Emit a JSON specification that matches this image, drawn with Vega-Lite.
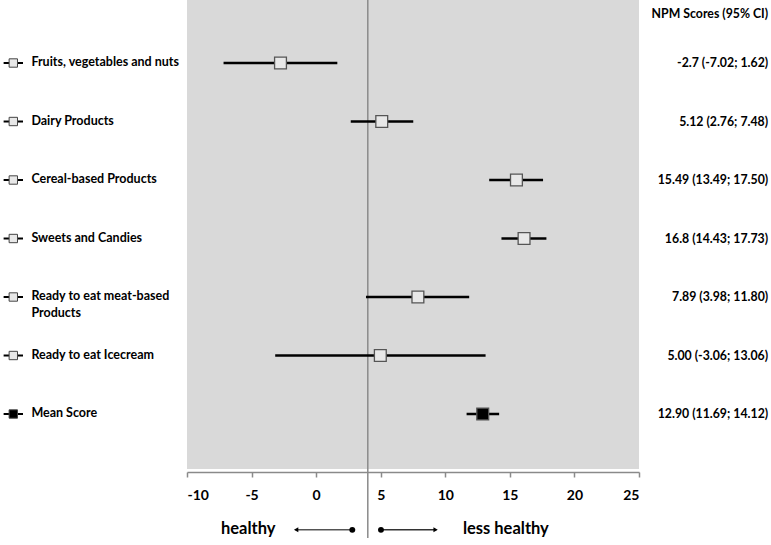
{
  "$schema": "https://vega.github.io/schema/vega-lite/v6.json",
  "width": 452,
  "height": 469,
  "autosize": {"type": "none"},
  "padding": {"left": 187, "top": 0, "right": 132, "bottom": 76},
  "background": "white",
  "config": {
    "view": {"fill": "#d9d9d9", "stroke": null},
    "font": "Lato",
    "text": {"font": "Lato", "fontWeight": "bold", "color": "black"}
  },
  "datasets": {
    "rows": [
      {"cat": "Fruits, vegetables and nuts", "i": 0, "est": -2.76, "lo": -7.17, "hi": 1.64, "type": "category", "ci": "-2.7 (-7.02; 1.62)"},
      {"cat": "Dairy Products", "i": 1, "est": 5.08, "lo": 2.68, "hi": 7.52, "type": "category", "ci": "5.12 (2.76; 7.48)"},
      {"cat": "Cereal-based Products", "i": 2, "est": 15.51, "lo": 13.4, "hi": 17.57, "type": "category", "ci": "15.49 (13.49; 17.50)"},
      {"cat": "Sweets and Candies", "i": 3, "est": 16.1, "lo": 14.35, "hi": 17.83, "type": "category", "ci": "16.8 (14.43; 17.73)"},
      {"cat": "Ready to eat meat-based\nProducts", "i": 4, "est": 7.88, "lo": 3.86, "hi": 11.85, "type": "category", "ci": "7.89 (3.98; 11.80)"},
      {"cat": "Ready to eat Icecream", "i": 5, "est": 4.97, "lo": -3.17, "hi": 13.12, "type": "category", "ci": "5.00 (-3.06; 13.06)"},
      {"cat": "Mean Score", "i": 6, "est": 12.9, "lo": 11.65, "hi": 14.17, "type": "mean", "ci": "12.90 (11.69; 14.12)"}
    ]
  },
  "layer": [
    {
      "data": {"values": [{"ref": 4}]},
      "mark": {"type": "rule", "color": "#8a8a8a", "strokeWidth": 1.5, "clip": false},
      "encoding": {
        "x": {"field": "ref", "type": "quantitative", "scale": {"domain": [-10, 25], "nice": false, "zero": false},
          "axis": {"values": [-10, -5, 0, 5, 10, 15, 20, 25], "labelExpr": "'' + datum.value", "title": null, "grid": false, "offset": 3, "domainColor": "#8a8a8a", "domainWidth": 1.5, "tickColor": "#8a8a8a", "tickSize": 5, "tickWidth": 1.5, "labelFont": "Lato", "labelFontSize": 14, "labelFontWeight": "bold", "labelColor": "black", "labelPadding": 11}},
        "y": {"datum": -1.077, "type": "quantitative", "scale": {"domain": [-1.077, 6.94], "reverse": true, "nice": false, "zero": false}, "axis": null},
        "y2": {"datum": 8.12}
      }
    },
    {
      "data": {"name": "rows"},
      "mark": {"type": "rule", "color": "black", "strokeWidth": 2.5},
      "encoding": {
        "x": {"field": "lo", "type": "quantitative"},
        "x2": {"field": "hi"},
        "y": {"field": "i", "type": "quantitative"}
      }
    },
    {
      "data": {"name": "rows"},
      "mark": {"type": "point", "shape": "square", "filled": true, "size": 140, "stroke": "#555555", "strokeWidth": 1.3, "opacity": 1},
      "encoding": {
        "x": {"field": "est", "type": "quantitative"},
        "y": {"field": "i", "type": "quantitative"},
        "fill": {"field": "type", "type": "nominal", "scale": {"domain": ["category", "mean"], "range": ["#e8e8e8", "#000000"]}, "legend": null}
      }
    },
    {
      "data": {"name": "rows"},
      "mark": {"type": "rule", "color": "black", "strokeWidth": 2, "clip": false},
      "encoding": {
        "x": {"datum": -24.2, "type": "quantitative"},
        "x2": {"datum": -22.7},
        "y": {"field": "i", "type": "quantitative"}
      }
    },
    {
      "data": {"name": "rows"},
      "mark": {"type": "point", "shape": "square", "filled": true, "size": 70, "stroke": "#444444", "strokeWidth": 1, "opacity": 1, "clip": false},
      "encoding": {
        "x": {"datum": -23.45, "type": "quantitative"},
        "y": {"field": "i", "type": "quantitative"},
        "fill": {"field": "type", "type": "nominal", "legend": null}
      }
    },
    {
      "data": {"name": "rows"},
      "mark": {"type": "text", "align": "left", "baseline": "middle", "fontSize": 12.5, "lineBreak": "\n", "lineHeight": 17, "dy": -1, "clip": false},
      "encoding": {
        "x": {"datum": -22.05, "type": "quantitative"},
        "y": {"field": "i", "type": "quantitative"},
        "text": {"field": "cat"}
      }
    },
    {
      "data": {"name": "rows"},
      "mark": {"type": "text", "align": "right", "baseline": "middle", "fontSize": 12.3, "clip": false},
      "encoding": {
        "x": {"datum": 35.0, "type": "quantitative"},
        "y": {"field": "i", "type": "quantitative"},
        "text": {"field": "ci"}
      }
    },
    {
      "data": {"values": [{"t": "NPM Scores (95% CI)"}]},
      "mark": {"type": "text", "align": "right", "baseline": "middle", "fontSize": 12.3, "clip": false},
      "encoding": {
        "x": {"datum": 35.0, "type": "quantitative"},
        "y": {"datum": -0.838, "type": "quantitative"},
        "text": {"field": "t"}
      }
    },
    {
      "data": {"values": [{"t": "healthy"}]},
      "mark": {"type": "text", "align": "center", "baseline": "middle", "fontSize": 16.5, "clip": false},
      "encoding": {
        "x": {"datum": -5.26, "type": "quantitative"},
        "y": {"datum": 7.96, "type": "quantitative"},
        "text": {"field": "t"}
      }
    },
    {
      "data": {"values": [{"t": "less healthy"}]},
      "mark": {"type": "text", "align": "center", "baseline": "middle", "fontSize": 16.5, "clip": false},
      "encoding": {
        "x": {"datum": 14.69, "type": "quantitative"},
        "y": {"datum": 7.96, "type": "quantitative"},
        "text": {"field": "t"}
      }
    },
    {
      "data": {"values": [{"a": -1.6, "b": 2.8}]},
      "mark": {"type": "rule", "color": "black", "strokeWidth": 1, "clip": false},
      "encoding": {
        "x": {"field": "a", "type": "quantitative"},
        "x2": {"field": "b"},
        "y": {"datum": 7.98, "type": "quantitative"}
      }
    },
    {
      "data": {"values": [{"a": 5.02, "b": 9.3}]},
      "mark": {"type": "rule", "color": "#333333", "strokeWidth": 1.5, "clip": false},
      "encoding": {
        "x": {"field": "a", "type": "quantitative"},
        "x2": {"field": "b"},
        "y": {"datum": 7.98, "type": "quantitative"}
      }
    },
    {
      "data": {"values": [{"p": 2.8}, {"p": 5.02}]},
      "mark": {"type": "point", "shape": "circle", "filled": true, "color": "black", "size": 35, "opacity": 1, "clip": false},
      "encoding": {
        "x": {"field": "p", "type": "quantitative"},
        "y": {"datum": 7.98, "type": "quantitative"}
      }
    },
    {
      "data": {"values": [{"p": -1.55}]},
      "mark": {"type": "point", "shape": "triangle-left", "filled": true, "color": "black", "size": 25, "opacity": 1, "clip": false},
      "encoding": {
        "x": {"field": "p", "type": "quantitative"},
        "y": {"datum": 7.98, "type": "quantitative"}
      }
    },
    {
      "data": {"values": [{"p": 9.25}]},
      "mark": {"type": "point", "shape": "triangle-right", "filled": true, "color": "black", "size": 25, "opacity": 1, "clip": false},
      "encoding": {
        "x": {"field": "p", "type": "quantitative"},
        "y": {"datum": 7.98, "type": "quantitative"}
      }
    }
  ]
}
